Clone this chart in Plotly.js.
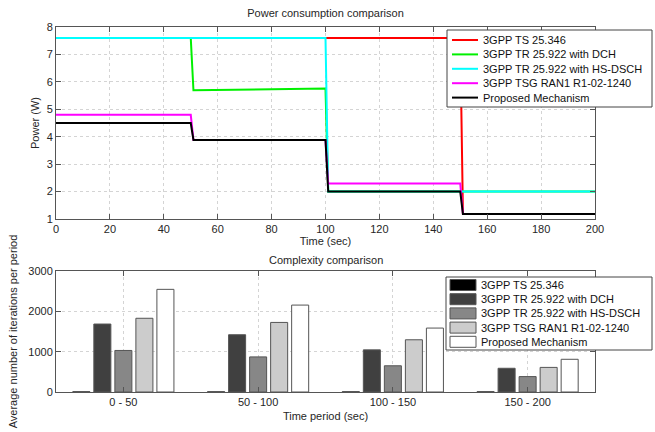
<!DOCTYPE html>
<html>
<head>
<meta charset="utf-8">
<script src="https://cdn.plot.ly/plotly-3.0.1.min.js"></script>
<style>html,body{margin:0;padding:0;background:#fff;}#chart{width:655px;height:432px;}</style>
</head>
<body>
<div id="chart"></div>
<script>
// ---------- data ----------
const time = [0, 50, 51, 100, 101, 150, 151, 200];
const seriesNames = ['3GPP TS 25.346', '3GPP TR 25.922 with DCH', '3GPP TR 25.922 with HS-DSCH', '3GPP TSG RAN1 R1-02-1240', 'Proposed Mechanism'];
const powerTS25346 = [7.6, 7.6, 7.6, 7.6, 7.6, 7.6, 1.18, 1.18];
const powerDCH     = [7.6, 7.6, 5.69, 5.76, 2.0, 2.0, 2.0, 2.0];
const powerHSDSCH  = [7.6, 7.6, 7.6, 7.6, 2.0, 2.0, 2.0, 2.0];
const powerRAN1    = [4.8, 4.8, 3.88, 3.88, 2.29, 2.29, 1.18, 1.18];
const powerProposed= [4.5, 4.5, 3.88, 3.88, 2.0, 2.0, 1.18, 1.18];

const periods = ['0 - 50', '50 - 100', '100 - 150', '150 - 200'];
const iterTS25346  = [10, 10, 10, 10];
const iterDCH      = [1685, 1420, 1045, 588];
const iterHSDSCH   = [1030, 870, 650, 382];
const iterRAN1     = [1828, 1725, 1295, 610];
const iterProposed = [2545, 2155, 1585, 811];

// ---------- styles ----------
const lineColors = ['#ff0000', '#00f000', '#00ffff', '#ff00ff', '#000000'];
const barColors = ['#000000', '#404040', '#878787', '#cccccc', '#ffffff'];
const FONT = 'Liberation Sans, Arial, sans-serif';
const TXT = '#262626';

// plot-area pixel geometry
const L = 56, R = 595, T = 27, B = 392;
const W = R - L, HH = B - T;
const px2x = p => (p - L) / W;
const px2y = p => (B - p) / HH;

const powerSeries = [powerTS25346, powerDCH, powerHSDSCH, powerRAN1, powerProposed];
const iterSeries = [iterTS25346, iterDCH, iterHSDSCH, iterRAN1, iterProposed];

const traces = [];
powerSeries.forEach((ys, i) => {
  traces.push({
    x: time, y: ys, type: 'scatter', mode: 'lines', name: seriesNames[i],
    line: {color: lineColors[i], width: 2}, xaxis: 'x', yaxis: 'y', showlegend: false
  });
});
iterSeries.forEach((ys, i) => {
  traces.push({
    x: periods, y: ys, type: 'bar', name: seriesNames[i],
    marker: {color: barColors[i], line: {color: '#555555', width: 1}},
    xaxis: 'x2', yaxis: 'y2', showlegend: false
  });
});

// ---------- manual legends ----------
const shapes = [];
const annotations = [];
function legendBox(x0, y0, x1, y1) {
  shapes.push({type: 'rect', xref: 'paper', yref: 'paper',
    x0: px2x(x0), x1: px2x(x1), y0: px2y(y1), y1: px2y(y0),
    line: {color: '#444444', width: 1}, fillcolor: '#ffffff', layer: 'above'});
}
function legendText(txt, xpx, ypx) {
  annotations.push({text: txt, xref: 'paper', yref: 'paper', x: px2x(xpx), y: px2y(ypx),
    xanchor: 'left', yanchor: 'middle', showarrow: false,
    font: {family: FONT, size: 11, color: '#111'}});
}
// top legend (lines)
legendBox(447, 30, 652, 107);
seriesNames.forEach((n, i) => {
  const yc = 40 + i * 14.4;
  shapes.push({type: 'line', xref: 'paper', yref: 'paper', x0: px2x(452), x1: px2x(478),
    y0: px2y(yc), y1: px2y(yc), line: {color: lineColors[i], width: 2}, layer: 'above'});
  legendText(n, 481, yc);
});
// bottom legend (bars)
legendBox(446, 277, 652, 350);
seriesNames.forEach((n, i) => {
  const yc = 285 + i * 14.2;
  shapes.push({type: 'rect', xref: 'paper', yref: 'paper', x0: px2x(450), x1: px2x(476),
    y0: px2y(yc + 5.5), y1: px2y(yc - 5.5), fillcolor: barColors[i],
    line: {color: '#555555', width: 1}, layer: 'above'});
  legendText(n, 479, yc);
});
// subplot title for bottom chart
annotations.push({text: 'Complexity comparison', xref: 'paper', yref: 'paper', x: 0.5, y: px2y(260),
  xanchor: 'center', yanchor: 'middle', showarrow: false, font: {family: FONT, size: 11, color: TXT}});

const axisCommon = {
  showline: true, linecolor: '#555555', linewidth: 1, mirror: 'ticks',
  ticks: 'inside', ticklen: 5, tickcolor: '#555555',
  showgrid: true, gridcolor: '#d4d4d4', griddash: 'dot', gridwidth: 1,
  zeroline: false, tickfont: {family: FONT, size: 11, color: TXT}
};

const layout = {
  width: 655, height: 432,
  margin: {l: L, r: 655 - R, t: T, b: 432 - B, pad: 0},
  paper_bgcolor: '#ffffff', plot_bgcolor: '#ffffff',
  font: {family: FONT, size: 11, color: TXT},
  showlegend: false,
  title: {text: 'Power consumption comparison', font: {family: FONT, size: 11, color: TXT},
    xref: 'paper', x: 0.5, xanchor: 'center', yref: 'container', y: 1 - 13 / 432, yanchor: 'middle'},
  xaxis: Object.assign({}, axisCommon, {anchor: 'y', domain: [0, 1], range: [0, 200], dtick: 20, tick0: 0,
    title: {text: 'Time (sec)', font: {family: FONT, size: 11, color: TXT}, standoff: 2}}),
  yaxis: Object.assign({}, axisCommon, {anchor: 'x', domain: [px2y(219), 1], range: [1, 8], dtick: 1,
    title: {text: 'Power (W)', font: {family: FONT, size: 11, color: TXT}, standoff: 4}}),
  xaxis2: Object.assign({}, axisCommon, {anchor: 'y2', domain: [0, 1], range: [-0.5, 3.5], type: 'category',
    title: {text: 'Time period (sec)', font: {family: FONT, size: 11, color: TXT}, standoff: 5}}),
  yaxis2: Object.assign({}, axisCommon, {anchor: 'x2', domain: [0, px2y(271)], range: [0, 3000], dtick: 1000,
    title: {text: 'Average number of iterations per period', font: {family: FONT, size: 11, color: TXT}, standoff: 8}}),
  barmode: 'group', bargap: 0.22, bargroupgap: 0.19,
  shapes: shapes, annotations: annotations
};

Plotly.newPlot('chart', traces, layout, {displayModeBar: false, staticPlot: true});
</script>
</body>
</html>
